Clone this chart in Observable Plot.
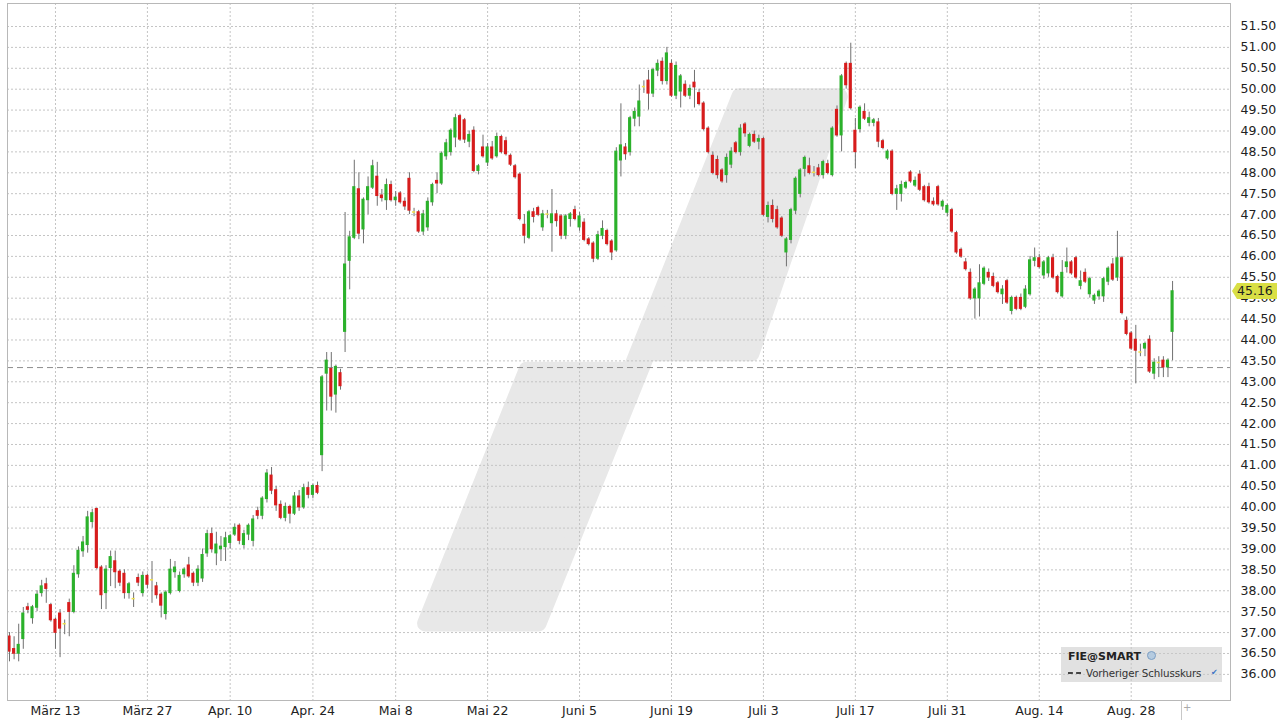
<!DOCTYPE html>
<html>
<head>
<meta charset="utf-8">
<script src="https://cdn.jsdelivr.net/npm/d3@7"></script>
<script src="https://cdn.jsdelivr.net/npm/@observablehq/plot@0.6"></script>
<style>
  body { margin: 0; background: #fff; }
  #wrap { position: relative; width: 1280px; height: 720px; overflow: hidden; font-family: "DejaVu Sans", Verdana, sans-serif; }
  #wrap svg { position: absolute; left: 0; top: 0; }
  .pricetag { position: absolute; left: 1232px; width: 45px; height: 16px; background: #d9df45; color: #222; font-size: 12.5px; line-height: 16px; padding-left: 5px; box-sizing: border-box; clip-path: polygon(0 50%, 5px 0, 100% 0, 100% 100%, 5px 100%); }
  .legend { position: absolute; left: 1061px; top: 647px; width: 161px; height: 35px; background: rgba(200,200,200,0.55); font-size: 11px; color: #333; }
  .legend .l1 { position: absolute; left: 7px; top: 3px; font-weight: bold; color: #222; font-size: 11px; }
  .legend .globe { display: inline-block; width: 7px; height: 7px; border-radius: 50%; background: #b5cbe0; border: 1px solid #7d9fc4; margin-left: 6px; vertical-align: 0px; }
  .legend .l2 { position: absolute; left: 7px; top: 20px; white-space: nowrap; font-size: 10.3px; letter-spacing: -0.1px; }
  .legend .dash { display: inline-block; width: 13px; border-top: 2px dashed #444; vertical-align: 3px; margin-right: 5px; }
  .legend .chk { position: absolute; left: 150px; top: 21px; color: #3a72c4; font-size: 8px; }
  .sep { position: absolute; left: 1181px; top: 700px; width: 1px; height: 20px; background: #c8c8c8; }
  .plus { position: absolute; left: 1183px; top: 702px; color: #aaa; font-size: 10px; }
</style>
</head>
<body>
<div id="wrap"></div>
<script>
// ---- Data (two bars per trading day, 6 Mar – 1 Sep) ----
const open = [
36.9,36.6,36.5,36.85,37.6,37.35,37.6,37.95,38.15,37.65,
37.3,37.45,37.2,37.7,37.5,38.4,38.95,39.1,39.65,39.95,
38.55,37.95,38.55,38.7,38.45,38.4,37.95,37.8,38.3,37.95,
38.35,38.25,38.1,37.9,37.45,37.95,38.45,38.0,38.4,38.6,
38.4,38.2,38.3,38.9,39.35,38.9,39.0,39.05,39.15,39.35,
39.55,39.1,39.35,39.2,39.9,39.8,40.2,40.75,40.4,40.05,
39.75,40.0,39.85,40.25,40.0,40.45,40.3,40.5,41.25,43.2,
43.3,42.7,43.2,44.2,45.9,46.45,47.6,46.65,47.35,47.65,
47.9,47.45,47.35,47.7,47.35,47.5,47.3,47.85,47.05,47.05,
46.6,46.7,47.3,47.8,47.75,48.4,48.5,48.85,49.35,49.25,
48.75,49.0,48.05,48.6,48.25,48.6,48.4,48.85,48.75,48.4,
48.15,47.95,46.75,46.45,47.05,47.15,46.7,47.0,46.8,47.0,
46.95,46.5,46.9,47.1,46.7,46.8,46.4,46.3,45.95,46.5,
46.6,46.35,46.15,48.3,48.6,48.5,49.3,49.35,50.05,50.2,
49.9,50.45,50.65,50.2,50.6,49.85,49.95,50.1,49.85,50.15,
49.9,49.65,49.05,48.4,48.3,48.05,47.95,48.2,48.7,48.5,
49.15,48.65,48.9,48.75,48.8,46.95,47.2,47.1,46.9,46.1,
46.4,47.1,47.5,48.1,48.15,48.0,48.1,47.95,48.2,47.95,
49.5,48.9,50.6,50.6,49.0,49.05,49.45,49.2,49.2,49.2,
48.75,48.35,48.5,47.5,47.5,47.65,48.0,47.7,47.95,47.65,
47.65,47.3,47.65,47.2,47.05,47.1,46.55,46.15,45.85,45.6,
45.0,45.0,45.35,45.6,45.5,45.35,45.1,45.4,44.7,45.0,
45.0,44.8,45.1,45.9,45.95,45.55,45.6,45.95,45.5,45.05,
45.75,45.85,45.95,45.3,45.6,45.1,44.95,45.05,45.05,45.4,
45.8,45.5,45.95,44.45,44.15,44.0,43.7,43.8,44.0,43.2,
43.45,43.5,43.35,44.2
];
const high = [
37.0,36.9,37.2,37.6,37.7,37.65,38.0,38.25,38.3,37.7,
37.35,37.55,37.3,37.8,38.6,39.05,39.3,39.9,39.95,39.98,
38.6,38.6,38.95,38.95,38.5,38.5,38.2,37.95,38.4,38.45,
38.4,38.7,38.2,37.95,38.0,38.75,38.7,38.45,38.55,38.8,
38.45,38.6,39.0,39.45,39.5,39.4,39.3,39.4,39.35,39.6,
39.6,39.45,39.6,39.8,40.0,40.25,40.9,40.95,40.5,40.15,
40.1,40.05,40.35,40.4,40.55,40.6,40.55,40.6,43.15,43.7,
43.7,43.4,43.3,47.05,46.6,48.3,48.0,47.4,47.9,48.3,
48.25,47.6,47.85,47.8,47.55,47.55,47.4,48.0,47.15,47.1,
47.1,47.4,47.75,48.0,48.5,48.8,49.05,49.4,49.4,49.3,
49.0,49.1,48.2,48.9,48.7,48.75,48.95,48.9,48.85,48.45,
48.2,48.0,47.0,47.1,47.15,47.2,47.1,47.1,47.6,47.1,
47.0,47.0,47.05,47.2,47.05,46.9,46.45,46.35,46.6,46.85,
46.65,46.4,48.6,49.65,48.7,49.35,49.55,50.1,50.2,50.45,
50.5,50.7,50.75,51.0,50.7,50.65,50.35,50.2,50.1,50.45,
50.0,49.7,49.1,48.5,48.4,48.1,48.45,48.6,48.75,49.15,
49.2,48.95,49.0,48.9,48.85,47.3,47.35,47.2,46.95,46.45,
47.15,47.9,48.1,48.4,48.35,48.15,48.2,48.3,48.3,49.1,
49.6,50.35,50.65,51.1,49.3,49.6,49.65,49.45,49.3,49.3,
48.8,48.55,48.55,47.7,47.8,47.8,48.05,47.9,48.05,47.7,
47.75,47.4,47.7,47.35,47.25,47.15,46.6,46.2,45.95,45.7,
45.25,45.8,45.75,45.7,45.6,45.4,45.3,45.45,45.05,45.05,
45.1,45.3,46.0,46.2,46.05,45.9,46.0,46.05,45.55,45.9,
46.2,45.9,46.0,45.65,45.7,45.5,45.1,45.2,45.5,45.75,
45.95,46.6,46.0,44.55,44.2,44.35,43.9,43.95,44.1,43.55,
43.6,43.6,43.55,45.4
];
const low = [
36.3,36.35,36.3,36.6,37.45,37.2,37.5,37.85,37.7,37.25,
36.6,36.4,36.95,36.9,37.45,38.3,38.8,38.9,39.5,38.5,
37.55,37.55,38.1,38.05,38.1,37.8,37.8,37.6,38.1,37.85,
38.05,37.7,37.8,37.35,37.3,37.9,38.3,37.95,38.3,38.3,
38.1,38.1,38.2,38.8,38.9,38.6,38.7,38.7,39.0,39.3,
39.1,39.0,39.2,39.05,39.7,39.7,40.1,40.3,39.9,39.7,
39.65,39.6,39.8,39.9,39.95,40.2,40.2,40.3,40.85,42.3,
42.3,42.25,42.8,43.7,45.2,46.4,46.4,46.3,47.0,47.6,
47.2,47.3,47.1,47.3,47.2,47.25,47.1,47.0,46.95,46.55,
46.5,46.6,47.2,47.5,47.7,48.3,48.4,48.6,48.75,48.7,
48.6,48.0,47.95,48.35,48.15,48.3,48.35,48.45,48.4,48.15,
47.85,46.85,46.3,46.4,46.8,46.95,46.6,46.9,46.1,46.7,
46.4,46.4,46.7,46.85,46.6,46.35,46.25,45.85,45.9,46.4,
46.25,45.9,46.1,47.9,48.3,48.4,49.1,49.1,49.9,49.5,
49.8,50.3,50.1,50.1,49.8,49.75,49.55,49.8,49.75,49.55,
49.6,49.0,48.45,47.95,47.85,47.75,47.75,48.1,48.45,48.4,
48.85,48.6,48.7,48.55,46.95,46.8,46.8,46.65,46.45,45.75,
46.3,47.0,47.4,47.9,47.95,47.9,47.9,47.85,47.95,47.9,
48.85,48.5,50.0,49.5,48.1,48.95,49.25,49.1,49.1,48.6,
48.55,48.3,47.45,47.1,47.3,47.6,47.75,47.65,47.55,47.3,
47.25,47.2,47.2,47.1,46.95,46.55,46.05,45.95,45.65,44.95,
44.5,44.55,45.3,45.4,45.25,45.1,44.85,44.85,44.6,44.7,
44.7,44.75,45.05,45.75,45.7,45.45,45.5,45.45,45.1,45.0,
45.6,45.55,45.45,45.2,45.35,45.0,44.85,44.95,44.9,45.3,
45.4,45.4,44.6,44.1,43.75,42.95,43.6,43.6,43.2,43.05,
43.1,43.1,43.1,43.5
];
const close = [
36.55,36.5,36.7,37.45,37.55,37.6,37.9,38.1,38.05,37.3,
37.0,37.1,37.2,37.5,38.4,38.95,39.15,39.75,39.85,38.55,
37.9,38.5,38.8,38.45,38.2,37.95,38.15,37.8,38.2,38.35,
38.15,38.25,37.9,37.65,37.95,38.5,38.55,38.35,38.5,38.35,
38.2,38.5,38.85,39.35,39.0,39.1,39.05,39.25,39.3,39.5,
39.2,39.35,39.55,39.7,39.8,40.2,40.8,40.4,40.05,39.75,
40.0,39.85,40.25,40.0,40.45,40.3,40.5,40.35,43.1,43.5,
42.65,43.35,42.9,45.8,46.45,47.65,46.55,47.35,47.65,48.15,
47.45,47.4,47.7,47.35,47.4,47.3,47.2,47.1,47.05,46.6,
47.0,47.3,47.7,47.75,48.45,48.7,49.0,49.3,48.8,48.8,
48.9,48.05,48.15,48.4,48.6,48.35,48.85,48.5,48.45,48.2,
47.9,46.9,46.5,47.05,46.95,47.0,47.0,47.0,47.0,46.85,
46.5,46.95,47.0,46.9,46.95,46.4,46.3,45.95,46.5,46.65,
46.3,46.1,48.5,48.65,48.45,49.3,49.45,49.7,50.05,49.9,
50.45,50.6,50.2,50.85,49.85,50.55,50.3,49.85,50.0,50.05,
49.65,49.05,48.5,48.0,47.95,47.8,48.35,48.5,48.5,49.05,
48.95,48.9,48.75,48.8,47.0,47.2,46.9,46.7,46.5,46.4,
47.1,47.85,48.05,48.35,48.0,48.0,47.95,48.25,48.0,49.05,
48.9,50.3,50.1,49.55,48.5,49.55,49.3,49.3,49.25,48.75,
48.6,48.5,47.5,47.6,47.7,47.75,47.8,47.8,47.6,47.35,
47.3,47.25,47.25,47.3,47.2,46.6,46.1,46.0,45.7,45.0,
45.2,45.35,45.7,45.5,45.3,45.15,45.2,44.9,45.0,44.75,
44.75,45.2,45.9,45.95,45.75,45.85,45.95,45.5,45.15,45.6,
45.85,45.6,45.5,45.4,45.4,45.45,45.05,45.15,45.45,45.7,
45.45,45.95,44.65,44.15,43.8,43.75,43.7,43.9,43.25,43.45,
43.45,43.35,43.5,45.16
];
// x-axis ticks (bar index) and their labels
const tickIndex = [10, 30, 48, 66, 84, 104, 124, 144, 164, 184, 204, 224, 244];
const tickLabels = ["März 13", "März 27", "Apr. 10", "Apr. 24", "Mai 8", "Mai 22", "Juni 5", "Juni 19", "Juli 3", "Juli 17", "Juli 31", "Aug. 14", "Aug. 28"];
// y-axis ticks
const yTicks = [36.0, 36.5, 37.0, 37.5, 38.0, 38.5, 39.0, 39.5, 40.0, 40.5, 41.0, 41.5, 42.0, 42.5, 43.0, 43.5,
                44.0, 44.5, 45.0, 45.5, 46.0, 46.5, 47.0, 47.5, 48.0, 48.5, 49.0, 49.5, 50.0, 50.5, 51.0, 51.5];
const prevClose = 43.34;
const lastPrice = 45.16;
// background watermark outline (bar index, price)
const watermarkX = [90.4, 112.5, 135.1, 158.8, 180.6, 161.4, 138.8, 115.1];
const watermarkY = [37.22, 43.29, 43.29, 49.83, 49.83, 43.68, 43.68, 37.22];

// ---- Build ----
const candles = open.map((o, i) => ({i, o, h: high[i], l: low[i], c: close[i]}));
const watermark = watermarkX.map((x, k) => ({x, y: watermarkY[k]}));
const GREEN = "#2bb12b", RED = "#d71c1c", DOJI = "#efe04a";
const bodyColor = d => Math.abs(d.c - d.o) < 0.001 ? DOJI : (d.c > d.o ? GREEN : RED);

const chart = Plot.plot({
  width: 1280,
  height: 720,
  marginLeft: 7,
  marginRight: 50,
  marginTop: 3,
  marginBottom: 20,
  style: {fontFamily: "'DejaVu Sans', Verdana, sans-serif", fontSize: "12.5px", color: "#222", background: "transparent", overflow: "visible"},
  x: {type: "linear", domain: [-0.435, 265.6]},
  y: {domain: [35.375, 52.05]},
  marks: [
    Plot.line(watermark, {x: "x", y: "y", curve: "linear-closed", fill: "#e8e8e8", stroke: "#e8e8e8", strokeWidth: 16, strokeLinejoin: "round"}),
    Plot.ruleY(yTicks, {stroke: "#c4c4c4", strokeDasharray: "2,2"}),
    Plot.ruleX(tickIndex, {stroke: "#c4c4c4", strokeDasharray: "2,2"}),
    Plot.ruleY([prevClose], {stroke: "#8c8c8c", strokeDasharray: "6,4"}),
    Plot.ruleX(candles, {x: "i", y1: "l", y2: "h", stroke: "#707070", strokeWidth: 1}),
    Plot.rect(candles, {
      x1: d => d.i - 0.34, x2: d => d.i + 0.34,
      y1: d => Math.min(d.o, d.c), y2: d => Math.max(d.o, d.c),
      fill: bodyColor, insetTop: -0.75, insetBottom: -0.75
    }),
    Plot.frame({stroke: "#b8b8b8"}),
    Plot.axisY(yTicks, {anchor: "right", tickSize: 0, tickPadding: 10, tickFormat: d => d.toFixed(2)}),
    Plot.axisX(tickIndex, {anchor: "bottom", tickSize: 0, tickPadding: 6, tickFormat: d => tickLabels[tickIndex.indexOf(d)]})
  ]
});

const wrap = document.getElementById("wrap");
wrap.appendChild(chart);

// last price tag positioned with the chart's own y scale
const yPix = chart.scale("y").apply(lastPrice);
const tag = document.createElement("div");
tag.className = "pricetag";
tag.style.top = (yPix - 8) + "px";
tag.textContent = lastPrice.toFixed(2);
wrap.appendChild(tag);

// legend box
const legend = document.createElement("div");
legend.className = "legend";
legend.innerHTML = '<div class="l1">FIE@SMART<span class="globe"></span></div>' +
  '<div class="l2"><span class="dash"></span>Vorheriger Schlusskurs</div>' +
  '<div class="chk">&#10004;</div>';
wrap.appendChild(legend);

const sep = document.createElement("div"); sep.className = "sep"; wrap.appendChild(sep);
const plus = document.createElement("div"); plus.className = "plus"; plus.textContent = "+"; wrap.appendChild(plus);
</script>
</body>
</html>
